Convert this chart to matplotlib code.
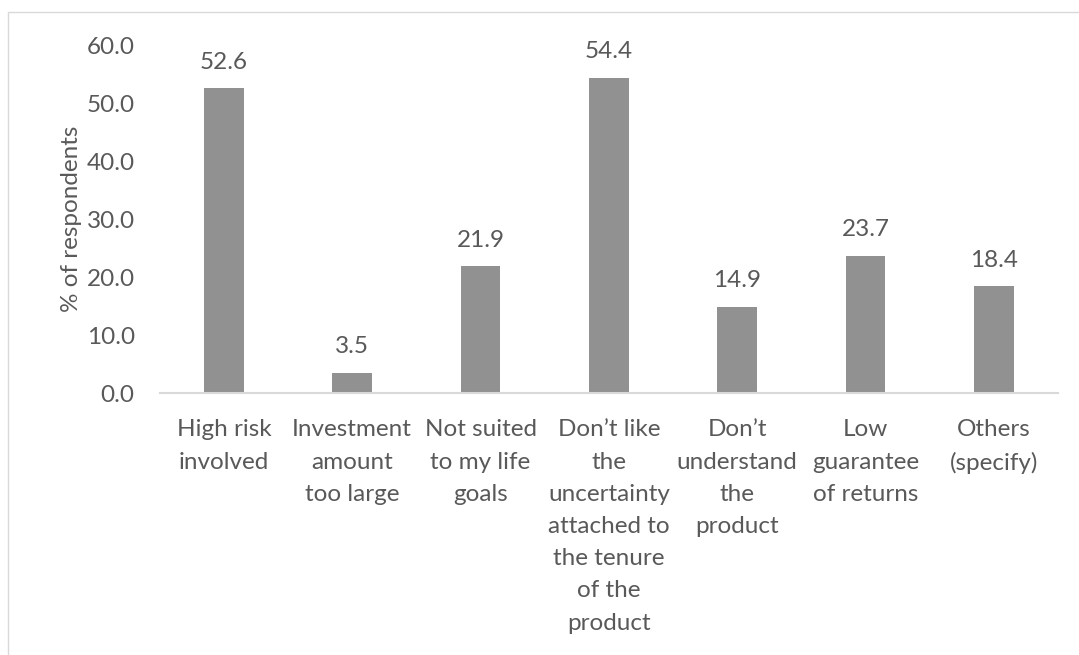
import matplotlib.pyplot as plt
from matplotlib.patches import Rectangle

categories = ["High risk\ninvolved", "Investment\namount\ntoo large", "Not suited\nto my life\ngoals",
              "Don\u2019t like\nthe\nuncertainty\nattached to\nthe tenure\nof the\nproduct",
              "Don\u2019t\nunderstand\nthe\nproduct", "Low\nguarantee\nof returns", "Others\n(specify)"]
values = [52.6, 3.5, 21.9, 54.4, 14.9, 23.7, 18.4]
yticks = [0, 10, 20, 30, 40, 50, 60]

plt.rcParams['font.family'] = ['Lato', 'DejaVu Sans']
txt = '#595959'
fs = 17.5

fig = plt.figure(figsize=(10.79, 6.55), dpi=100)
ax = fig.add_axes([0.148, 0.400, 0.8325, 0.531])

x = range(len(values))
ax.bar(x, values, width=0.31, color='#919191', zorder=2)
for xi, v in zip(x, values):
    ax.annotate(f"{v:.1f}", (xi, v), xytext=(0, 11), textcoords='offset points',
                ha='center', va='bottom', fontsize=fs, color=txt)

ax.set_xlim(-0.5, len(values) - 0.5)
ax.set_ylim(0, 60)
ax.set_yticks(yticks)
ax.set_yticklabels([f"{t:.1f}" for t in yticks], fontsize=fs, color=txt)
ax.set_xticks(list(x))
ax.set_xticklabels(categories, fontsize=fs, color=txt, linespacing=1.66, va='top')
ax.tick_params(axis='x', length=0, pad=19)
ax.tick_params(axis='y', length=0, pad=18)
for s in ['top', 'right', 'left']:
    ax.spines[s].set_visible(False)
ax.spines['bottom'].set_color('#d9d9d9')
ax.spines['bottom'].set_linewidth(1.5)
ax.set_ylabel("% of respondents", fontsize=fs, color=txt, labelpad=3)

# light frame around chart area
fig.patches.append(Rectangle((8 / 1079, -0.1), 1.2, 1 - 12 / 655 + 0.1, transform=fig.transFigure,
                             fill=False, edgecolor='#d9d9d9', linewidth=1))

fig.savefig("out.png", dpi=100)
